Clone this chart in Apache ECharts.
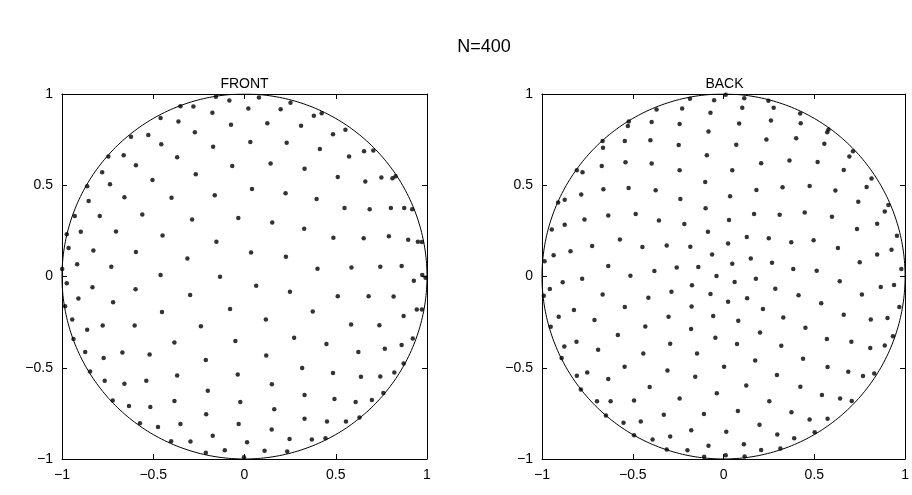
<!DOCTYPE html>
<html>
<head>
<meta charset="utf-8">
<script src="https://cdn.jsdelivr.net/npm/echarts@6/dist/echarts.min.js"></script>
<style>
  html, body { margin: 0; padding: 0; background: #fff; }
  #chart { width: 912px; height: 495px; }
</style>
</head>
<body>
<div id="chart"></div>
<script>
// Projected sample points, hemisphere facing the viewer
const frontPoints = [
  [-0.351,0.933],[-0.460,0.868],[-0.362,0.850],[-0.622,0.766],[-0.527,0.775],[-0.456,0.724],
  [-0.746,0.657],[-0.662,0.664],[-0.369,0.653],[-0.595,0.609],[-0.780,0.571],[-0.504,0.529],
  [-0.862,0.495],[-0.737,0.505],[-0.854,0.414],[-0.658,0.434],[-0.400,0.431],[-0.930,0.332],
  [-0.793,0.332],[-0.560,0.340],[-0.974,0.231],[-0.897,0.245],[-0.704,0.247],[-0.449,0.225],
  [-0.964,0.156],[-0.828,0.143],[-0.595,0.134],[-0.999,0.041],[-0.917,0.067],[-0.730,0.054],
  [-0.460,0.008],
  [-0.280,0.932],[-0.157,0.985],[-0.083,0.964],[0.079,0.981],[0.252,0.952],[-0.176,0.897],
  [0.021,0.921],[0.198,0.917],[-0.272,0.791],[-0.074,0.832],[0.125,0.840],[0.310,0.826],
  [-0.172,0.711],[0.032,0.737],[0.231,0.733],[-0.267,0.560],[-0.067,0.605],[0.143,0.619],
  [0.329,0.591],[-0.163,0.445],[0.041,0.480],[0.225,0.456],[-0.287,0.313],[-0.034,0.321],
  [0.152,0.296],[0.327,0.261],[-0.154,0.190],[-0.313,0.099],[0.036,0.132],[0.227,0.108],
  [-0.134,-0.001],
  [0.380,0.881],[0.423,0.895],[0.485,0.780],[0.553,0.804],[0.413,0.698],[0.573,0.658],
  [0.655,0.686],[0.706,0.690],[0.511,0.545],[0.662,0.520],[0.750,0.542],[0.811,0.538],
  [0.828,0.549],[0.395,0.425],[0.548,0.376],[0.686,0.369],[0.802,0.376],[0.875,0.376],
  [0.919,0.369],[0.487,0.212],[0.653,0.209],[0.791,0.221],[0.897,0.201],[0.950,0.190],
  [0.972,0.189],[0.400,0.043],[0.586,0.050],[0.744,0.054],[0.861,0.057],[0.974,0.008],
  [0.992,-0.007],
  [-0.974,-0.037],[-0.833,-0.059],[-0.597,-0.070],[-0.910,-0.121],[-0.720,-0.141],[-0.983,-0.163],
  [-0.452,-0.194],[-0.944,-0.236],[-0.862,-0.292],[-0.777,-0.269],[-0.602,-0.269],[-0.937,-0.343],
  [-0.384,-0.362],[-0.873,-0.414],[-0.772,-0.447],[-0.669,-0.416],[-0.520,-0.427],[-0.846,-0.520],
  [-0.766,-0.571],[-0.658,-0.587],[-0.538,-0.571],[-0.369,-0.542],[-0.722,-0.679],[-0.633,-0.709],
  [-0.516,-0.715],[-0.384,-0.682],[-0.573,-0.804],[-0.474,-0.824],[-0.351,-0.808],[-0.402,-0.903],
  [-0.298,-0.101],[0.064,-0.050],[0.249,-0.083],[-0.079,-0.178],[0.117,-0.236],[-0.239,-0.272],
  [-0.050,-0.354],[0.272,-0.336],[-0.212,-0.458],[0.119,-0.433],[0.316,-0.502],[-0.037,-0.537],
  [-0.201,-0.626],[0.150,-0.591],[0.329,-0.649],[-0.023,-0.687],[-0.210,-0.755],[0.163,-0.728],
  [0.329,-0.779],[-0.032,-0.808],[0.149,-0.839],[-0.174,-0.872],[-0.296,-0.904],[0.014,-0.908],
  [0.247,-0.890],[-0.212,-0.966],[-0.108,-0.952],[-0.003,-0.990],[0.110,-0.955],[0.234,-0.959],
  [0.928,-0.023],[0.511,-0.108],[0.680,-0.108],[0.817,-0.110],[0.374,-0.192],[0.944,-0.181],
  [0.972,-0.181],[0.872,-0.217],[0.584,-0.263],[0.739,-0.267],[0.449,-0.370],[0.624,-0.414],
  [0.769,-0.396],[0.861,-0.376],[0.922,-0.340],[0.485,-0.529],[0.638,-0.549],[0.744,-0.548],
  [0.821,-0.526],[0.872,-0.477],[0.493,-0.671],[0.609,-0.687],[0.698,-0.677],[0.761,-0.638],
  [0.452,-0.795],[0.556,-0.795],[0.630,-0.772],[0.369,-0.893],[0.444,-0.886]
];

// Projected sample points, far hemisphere
const backPoints = [
  [-0.369,0.915],[-0.522,0.850],[-0.527,0.824],[-0.396,0.846],[-0.666,0.742],[-0.664,0.706],
  [-0.544,0.742],[-0.403,0.746],[-0.808,0.582],[-0.777,0.571],[-0.671,0.605],[-0.540,0.626],
  [-0.396,0.619],[-0.911,0.405],[-0.875,0.420],[-0.784,0.449],[-0.662,0.478],[-0.523,0.485],
  [-0.374,0.473],[-0.946,0.258],[-0.875,0.283],[-0.766,0.313],[-0.635,0.334],[-0.484,0.343],
  [-0.356,0.307],[-0.986,0.083],[-0.936,0.116],[-0.843,0.138],[-0.724,0.167],[-0.571,0.203],
  [-0.447,0.161],[-0.779,-0.012],[-0.635,0.057],[-0.513,0.004],[-0.381,0.030],
  [-0.185,0.974],[-0.052,0.966],[0.012,0.996],[0.114,0.977],[0.247,0.963],[-0.228,0.921],
  [-0.072,0.897],[0.103,0.925],[0.276,0.925],[-0.242,0.835],[-0.083,0.795],[0.086,0.839],
  [0.261,0.855],[-0.247,0.720],[0.070,0.722],[0.236,0.751],[-0.092,0.664],[0.207,0.620],
  [-0.242,0.582],[0.048,0.582],[-0.101,0.518],[0.181,0.474],[0.325,0.489],[-0.238,0.425],
  [0.036,0.440],[-0.099,0.374],[0.168,0.342],[0.309,0.338],[-0.216,0.287],[0.030,0.310],
  [-0.086,0.245],[0.128,0.216],[0.249,0.210],[-0.313,0.170],[-0.183,0.163],[0.025,0.181],
  [-0.063,0.121],[0.048,0.070],[0.150,0.099],[0.267,0.075],[-0.258,0.050],[-0.139,0.052],
  [-0.039,0.003],[0.178,-0.012],
  [0.422,0.893],[0.425,0.840],[0.578,0.806],[0.571,0.790],[0.400,0.757],[0.555,0.728],
  [0.713,0.686],[0.693,0.657],[0.363,0.635],[0.518,0.627],[0.662,0.584],[0.815,0.537],
  [0.788,0.491],[0.474,0.496],[0.616,0.471],[0.742,0.409],[0.908,0.392],[0.888,0.356],
  [0.447,0.351],[0.597,0.327],[0.735,0.260],[0.846,0.289],[0.955,0.223],[0.925,0.146],
  [0.373,0.187],[0.496,0.198],[0.630,0.156],[0.750,0.078],[0.846,0.121],[0.384,0.041],
  [0.513,0.032],[0.979,0.041],
  [-0.886,-0.032],[-0.957,-0.068],[-0.990,-0.105],[-0.666,-0.099],[-0.414,-0.117],[-0.824,-0.183],
  [-0.544,-0.167],[-0.908,-0.220],[-0.711,-0.238],[-0.952,-0.276],[-0.431,-0.274],[-0.582,-0.321],
  [-0.810,-0.358],[-0.877,-0.384],[-0.691,-0.402],[-0.442,-0.422],[-0.892,-0.447],[-0.545,-0.495],
  [-0.808,-0.544],[-0.751,-0.526],[-0.635,-0.562],[-0.407,-0.605],[-0.786,-0.619],[-0.697,-0.684],
  [-0.622,-0.684],[-0.493,-0.679],[-0.648,-0.761],[-0.551,-0.801],[-0.456,-0.795],[-0.493,-0.870],
  [-0.391,-0.893],
  [0.061,-0.030],[-0.287,-0.083],[-0.174,-0.048],[-0.072,-0.096],[0.130,-0.119],[0.285,-0.067],
  [0.025,-0.138],[-0.176,-0.165],[0.217,-0.178],[-0.303,-0.220],[-0.057,-0.217],[0.081,-0.242],
  [0.329,-0.225],[-0.179,-0.287],[0.201,-0.307],[-0.045,-0.336],[0.074,-0.370],[-0.294,-0.369],
  [0.318,-0.380],[-0.146,-0.422],[0.174,-0.460],[0.003,-0.495],[-0.309,-0.515],[-0.156,-0.549],
  [0.294,-0.540],[0.125,-0.597],[-0.037,-0.640],[-0.242,-0.668],[0.252,-0.684],[0.079,-0.737],
  [-0.329,-0.758],[-0.108,-0.753],[0.198,-0.813],[-0.178,-0.843],[0.015,-0.851],[0.296,-0.866],
  [-0.294,-0.877],[-0.083,-0.928],[0.112,-0.919],[-0.313,-0.948],[-0.199,-0.952],[0.207,-0.950],
  [0.313,-0.943],[-0.107,-0.988],[0.012,-0.979],[0.116,-0.986],
  [0.640,-0.026],[0.866,-0.057],[0.939,-0.046],[0.413,-0.103],[0.538,-0.146],[0.762,-0.099],
  [0.968,-0.167],[0.662,-0.210],[0.811,-0.236],[0.903,-0.228],[0.451,-0.281],[0.569,-0.342],
  [0.704,-0.358],[0.808,-0.392],[0.888,-0.378],[0.933,-0.327],[0.438,-0.451],[0.573,-0.496],
  [0.687,-0.522],[0.768,-0.545],[0.830,-0.531],[0.423,-0.604],[0.542,-0.649],[0.642,-0.668],
  [0.706,-0.682],[0.374,-0.744],[0.474,-0.784],[0.573,-0.779],[0.389,-0.886],[0.502,-0.854]
];

const mainTitle = 'N=400';
const panelTitles = ['FRONT', 'BACK'];

// Unit circle outline (boundary of the projected disc)
const circle = [];
for (let i = 0; i <= 360; i++) {
  const a = i * Math.PI / 180;
  circle.push([Math.cos(a), Math.sin(a)]);
}

const FONT = '"Liberation Sans", Arial, Helvetica, sans-serif';
const fmt = v => String(v).replace('-', '\u2212');

const grids = [
  { left: 62, top: 94, width: 365, height: 365 },
  { left: 542, top: 94, width: 365, height: 365 }
];

function axisBase(gridIndex, position, showLabel) {
  return {
    gridIndex, position, type: 'value', min: -1, max: 1, interval: 0.5,
    axisLine: { show: true, onZero: false, lineStyle: { color: '#000', width: 1 } },
    axisTick: { show: true, inside: true, length: 5, lineStyle: { color: '#000', width: 1 } },
    axisLabel: { show: showLabel, color: '#000', fontSize: 14, fontFamily: FONT, margin: 9, formatter: fmt },
    splitLine: { show: false }
  };
}

const xAxes = [], yAxes = [];
grids.forEach((g, i) => {
  xAxes.push(axisBase(i, 'bottom', true));
  xAxes.push(axisBase(i, 'top', false));
  yAxes.push(axisBase(i, 'left', true));
  yAxes.push(axisBase(i, 'right', false));
});

const series = [];
[frontPoints, backPoints].forEach((pts, i) => {
  series.push({
    type: 'line', xAxisIndex: i * 2, yAxisIndex: i * 2, data: circle,
    showSymbol: false, silent: true, animation: false,
    lineStyle: { color: '#000', width: 1 }
  });
  series.push({
    type: 'scatter', xAxisIndex: i * 2, yAxisIndex: i * 2, data: pts,
    symbol: 'circle', symbolSize: 4.5, animation: false, silent: true,
    itemStyle: { color: '#000' }
  });
});

function label(text, x, y, size) {
  return {
    type: 'text', x, y, silent: true,
    style: { text, fill: '#000', font: size + 'px ' + FONT, textAlign: 'center', textVerticalAlign: 'middle' }
  };
}

const chart = echarts.init(document.getElementById('chart'), null, { renderer: 'canvas' });
chart.setOption({
  backgroundColor: '#fff',
  animation: false,
  graphic: [
    label(mainTitle, 484, 47, 18),
    label(panelTitles[0], 244.5, 84, 14),
    label(panelTitles[1], 724.5, 84, 14)
  ],
  grid: grids,
  xAxis: xAxes,
  yAxis: yAxes,
  series
});
</script>
</body>
</html>
